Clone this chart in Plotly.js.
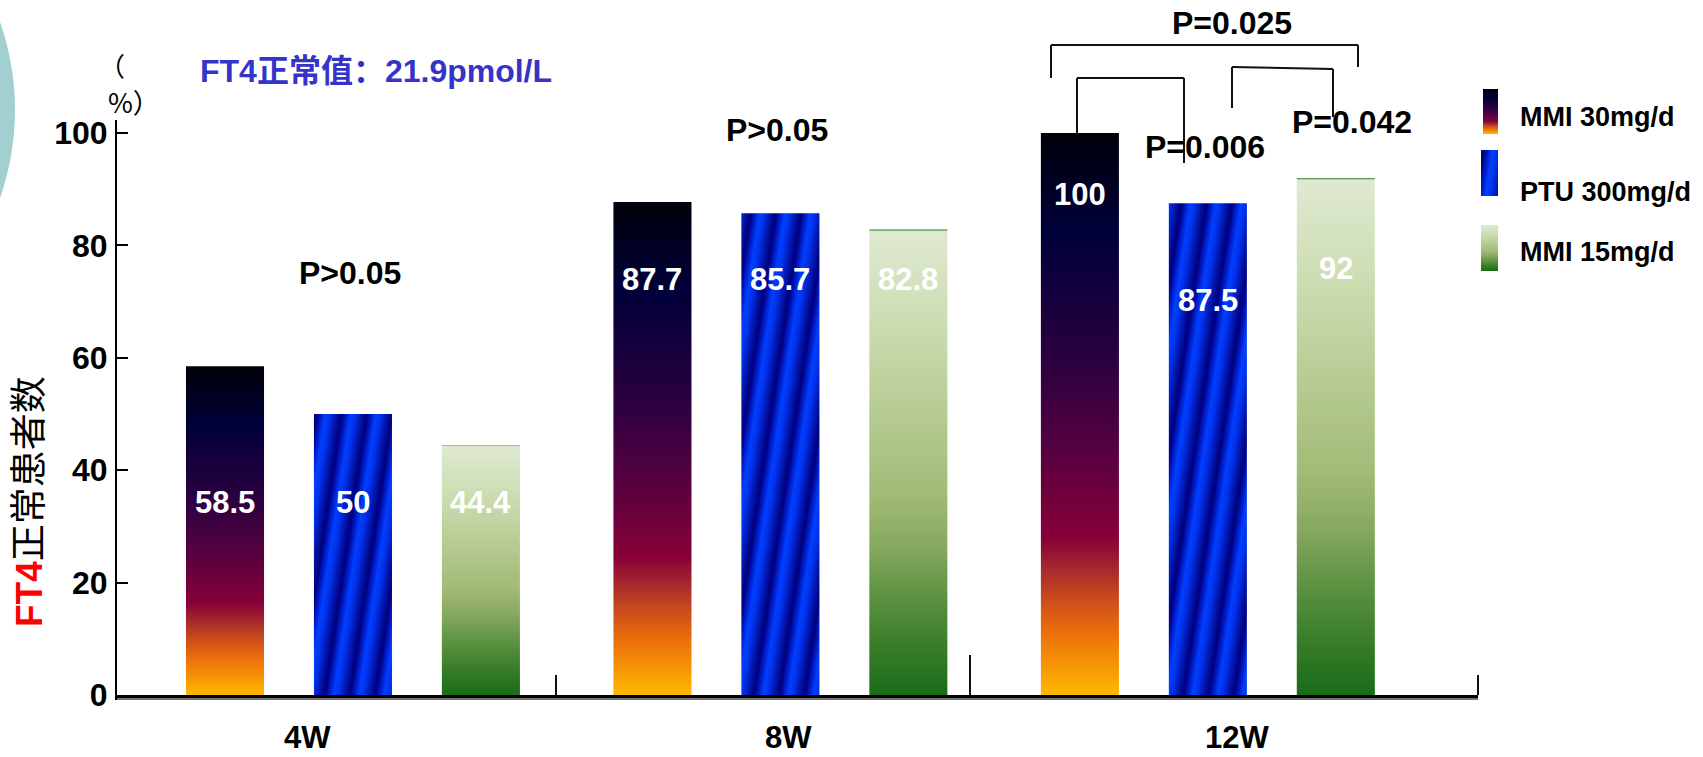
<!DOCTYPE html>
<html>
<head>
<meta charset="utf-8">
<script src="https://cdn.plot.ly/plotly-3.0.1.min.js"></script>
<style>
  html, body { margin: 0; padding: 0; background: #ffffff; }
  #chart { width: 1703px; height: 757px; }
</style>
</head>
<body>
<div id="chart"></div>
<script>
// ---- data ----
const weeks = ['4W', '8W', '12W'];
const seriesNames = ['MMI 30mg/d', 'PTU 300mg/d', 'MMI 15mg/d'];
const mmi30 = [58.5, 87.7, 100];
const ptu300 = [50, 85.7, 87.5];
const mmi15 = [44.4, 82.8, 92];
const yTickVals = [0, 20, 40, 60, 80, 100];
const pWeek4 = 'P>0.05';
const pWeek8 = 'P>0.05';
const pAll12 = 'P=0.025';
const pMmiPtu12 = 'P=0.006';
const pPtuMmi12 = 'P=0.042';
const normalNote = 'FT4正常值：21.9pmol/L';
const unitOpen = '（';
const unitClose = '%）';

// ---- layout constants ----
const Y_MAX = 102.3;
const BARGAP = 0.102;
const GROUPGAP = 0.39;
const SLOT = (1 - BARGAP) / 3;
const FONT = 'Arial, "Liberation Sans", "Noto Sans CJK SC", sans-serif';
const CJK = '"Noto Sans CJK SC", sans-serif';
const M = { l: 117, r: 225, t: 120, b: 62 };
const W = 1703, H = 757;
const PW = W - M.l - M.r, PH = H - M.t - M.b;
// pixel position -> paper fraction (used for decorations around the plot)
const px = X => (X - M.l) / PW;
const py = Y => (H - M.b - Y) / PH;

// where each group's value labels sit inside the bars (y-axis units)
const labelLevels = [
  [34.2, 34.2, 34.2],
  [74.0, 74.0, 74.0],
  [89.1, 70.1, 75.8]
];
// horizontal pixel centres of the week captions under the base line
const weekLabelX = [307, 788, 1237];

const seriesValues = [mmi30, ptu300, mmi15];
const fallbackColors = ['#2a0040', '#0028d0', '#a8c080'];

const traces = seriesValues.map((vals, i) => ({
  type: 'bar',
  name: seriesNames[i],
  x: weeks,
  y: vals,
  marker: { color: fallbackColors[i], line: { width: 0 } },
  hoverinfo: 'skip',
  showlegend: false
}));

const annotations = [];
// value labels inside bars
seriesValues.forEach((vals, j) => {
  vals.forEach((v, k) => {
    annotations.push({
      xref: 'x', yref: 'y',
      x: k + (j - 1) * SLOT, y: labelLevels[k][j],
      text: String(v), showarrow: false,
      font: { family: FONT, size: 31, color: '#ffffff', weight: 'bold' }
    });
  });
});

// week captions
weeks.forEach((w, k) => {
  annotations.push({
    xref: 'paper', yref: 'paper', x: px(weekLabelX[k]), y: py(737),
    xanchor: 'center', yanchor: 'middle', showarrow: false, text: w,
    font: { family: FONT, size: 31, color: '#000000', weight: 'bold' }
  });
});

const pFont = { family: FONT, size: 32, color: '#000000', weight: 'bold' };
const pLabel = (t, X, Y) => ({
  xref: 'paper', yref: 'paper', x: px(X), y: py(Y),
  xanchor: 'center', yanchor: 'middle', text: t, showarrow: false, font: pFont
});
annotations.push(pLabel(pWeek4, 350, 273));
annotations.push(pLabel(pWeek8, 777, 130));
annotations.push(pLabel(pAll12, 1232, 23));
annotations.push(pLabel(pMmiPtu12, 1205, 147));
annotations.push(pLabel(pPtuMmi12, 1352, 122));

// note on the normal value
annotations.push({
  xref: 'paper', yref: 'paper', x: px(198), y: py(71),
  xanchor: 'left', yanchor: 'middle', showarrow: false,
  text: '<b>' + normalNote + '</b>',
  font: { family: FONT, size: 32, color: '#3434c8' }
});

// unit mark "（%）" stacked above the axis
annotations.push({
  xref: 'paper', yref: 'paper', x: px(97), y: py(64),
  xanchor: 'left', yanchor: 'middle', showarrow: false,
  text: unitOpen, font: { family: CJK, size: 26, color: '#000' }
});
annotations.push({
  xref: 'paper', yref: 'paper', x: px(106), y: py(102),
  xanchor: 'left', yanchor: 'middle', showarrow: false,
  text: unitClose, font: { family: CJK, size: 27, color: '#000' }
});

// y-axis title
annotations.push({
  xref: 'paper', yref: 'paper', x: px(29), y: py(502),
  xanchor: 'center', yanchor: 'middle', textangle: -90, showarrow: false,
  text: '<b><span style="color:#ff0000">FT4</span></b>正常患者数',
  font: { family: FONT, size: 37, color: '#000000' }
});

// legend text
const legendY = [117, 192, 252];
seriesNames.forEach((n, i) => {
  annotations.push({
    xref: 'paper', yref: 'paper', x: px(1518), y: py(legendY[i]),
    xanchor: 'left', yanchor: 'middle', showarrow: false, text: n,
    font: { family: FONT, size: 27, color: '#000000', weight: 'bold' }
  });
});

const shapes = [];
const seg = (X0, Y0, X1, Y1, w) => ({
  type: 'line', xref: 'paper', yref: 'paper',
  x0: typeof X0 === 'number' ? px(X0) : X0.p, y0: typeof Y0 === 'number' ? py(Y0) : Y0.p,
  x1: typeof X1 === 'number' ? px(X1) : X1.p, y1: typeof Y1 === 'number' ? py(Y1) : Y1.p,
  line: { color: '#111111', width: w || 2 }, layer: 'above'
});

// legend swatches (filled with gradients after drawing) -> shape indices 0..2
const swatches = [[1483, 89, 1498, 134], [1481, 150, 1498, 196], [1481, 225, 1498, 271]];
swatches.forEach(s => {
  shapes.push({
    type: 'rect', xref: 'paper', yref: 'paper',
    x0: px(s[0]), y0: py(s[3]), x1: px(s[2]), y1: py(s[1]),
    fillcolor: '#333', line: { width: 0 }, layer: 'above'
  });
});

// significance brackets at 12W
const topOfMmi30 = { p: mmi30[2] / Y_MAX };
shapes.push(seg(1051, 78, 1051, 45));
shapes.push(seg(1051, 45, 1358, 45));
shapes.push(seg(1358, 45, 1358, 67));
shapes.push(seg(1077, topOfMmi30, 1077, 78));
shapes.push(seg(1077, 78, 1184, 78));
shapes.push(seg(1184, 78, 1184, 163));
shapes.push(seg(1232, 108, 1232, 67));
shapes.push(seg(1232, 67, 1333, 69));
shapes.push(seg(1333, 69, 1333, 117));

// group separators on the base line
shapes.push(seg(556, 695, 556, 675));
shapes.push(seg(970, 695, 970, 655));
shapes.push(seg(1478, 695, 1478, 675));
// faint grey edge under the base line
shapes.push({
  type: 'line', xref: 'paper', yref: 'paper',
  x0: px(117), x1: px(1478), y0: py(699), y1: py(699),
  line: { color: '#9a9a9a', width: 1.5 }, layer: 'above'
});

// slide decoration on the far left
shapes.push({
  type: 'circle', xref: 'paper', yref: 'paper',
  x0: px(-515), x1: px(15), y0: py(375), y1: py(-155),
  fillcolor: '#a2d0d0', line: { width: 0 }, layer: 'below'
});

const layout = {
  width: W, height: H,
  margin: M,
  paper_bgcolor: '#ffffff', plot_bgcolor: '#ffffff',
  barmode: 'group', bargap: BARGAP, bargroupgap: GROUPGAP,
  showlegend: false,
  xaxis: {
    type: 'category', range: [-0.552, 2.632], fixedrange: true,
    showline: true, linecolor: '#000000', linewidth: 5,
    ticks: '', showgrid: false, zeroline: false, automargin: false,
    showticklabels: false
  },
  yaxis: {
    range: [0, Y_MAX], fixedrange: true,
    tickvals: yTickVals, ticktext: yTickVals.map(String),
    showline: true, linecolor: '#000000', linewidth: 2,
    ticks: 'inside', ticklen: 11, tickwidth: 2, tickcolor: '#000000',
    showgrid: false, zeroline: false, automargin: false,
    ticklabelstandoff: 1,
    tickfont: { family: FONT, size: 32, color: '#000000', weight: 'bold' }
  },
  annotations: annotations,
  shapes: shapes
};

// gradient fills for each series
const gradients = [
  { id: 'fill-0', attrs: { x1: 0, y1: 0, x2: 0, y2: 1 }, stops: [
    [0, '#00000a'], [0.18, '#00003a'], [0.4, '#2a0040'], [0.56, '#550040'],
    [0.72, '#880038'], [0.78, '#a82c2c'], [0.83, '#cc4c1c'], [0.89, '#ec700a'], [1, '#ffb800']] },
  { id: 'fill-1', attrs: { x1: 0, y1: 0, x2: 24.7, y2: 3.7, gradientUnits: 'userSpaceOnUse', spreadMethod: 'repeat' }, stops: [
    [0, '#0040ff'], [0.2, '#0030e8'], [0.4, '#0018b0'], [0.55, '#000890'],
    [0.65, '#00007e'], [0.8, '#0018c0'], [1, '#0040ff']] },
  { id: 'fill-2', attrs: { x1: 0, y1: 0, x2: 0, y2: 1 }, stops: [
    [0, '#2a7a22'], [0.004, '#dfe9d2'], [0.21, '#cbdcb0'], [0.42, '#b3c98e'], [0.57, '#a2bb76'],
    [0.68, '#86a860'], [0.78, '#5f9443'], [0.89, '#3a7e2a'], [1, '#1a6b18']] }
];

const SVGNS = 'http://www.w3.org/2000/svg';
function applyFills(gd) {
  const svg = gd.querySelector('.main-svg');
  let defs = svg.querySelector('defs');
  if (!defs) { defs = document.createElementNS(SVGNS, 'defs'); svg.insertBefore(defs, svg.firstChild); }
  gradients.forEach(g => {
    if (defs.querySelector('#' + g.id)) return;
    const lg = document.createElementNS(SVGNS, 'linearGradient');
    lg.setAttribute('id', g.id);
    Object.keys(g.attrs).forEach(k => lg.setAttribute(k, g.attrs[k]));
    g.stops.forEach(s => {
      const st = document.createElementNS(SVGNS, 'stop');
      st.setAttribute('offset', s[0]);
      st.setAttribute('stop-color', s[1]);
      lg.appendChild(st);
    });
    defs.appendChild(lg);
  });
  gd.querySelectorAll('.barlayer .trace').forEach((t, i) => {
    t.querySelectorAll('path').forEach(p => { p.style.fill = 'url(#fill-' + i + ')'; });
  });
  [0, 1, 2].forEach(i => {
    gd.querySelectorAll('.shapelayer path[data-index="' + i + '"]').forEach(p => {
      p.style.fill = 'url(#fill-' + i + ')';
      p.style.fillOpacity = 1;
    });
  });
}

const gd = document.getElementById('chart');
Plotly.newPlot(gd, traces, layout, { staticPlot: true, displayModeBar: false }).then(() => {
  applyFills(gd);
  gd.on('plotly_afterplot', () => applyFills(gd));
});
</script>
</body>
</html>
